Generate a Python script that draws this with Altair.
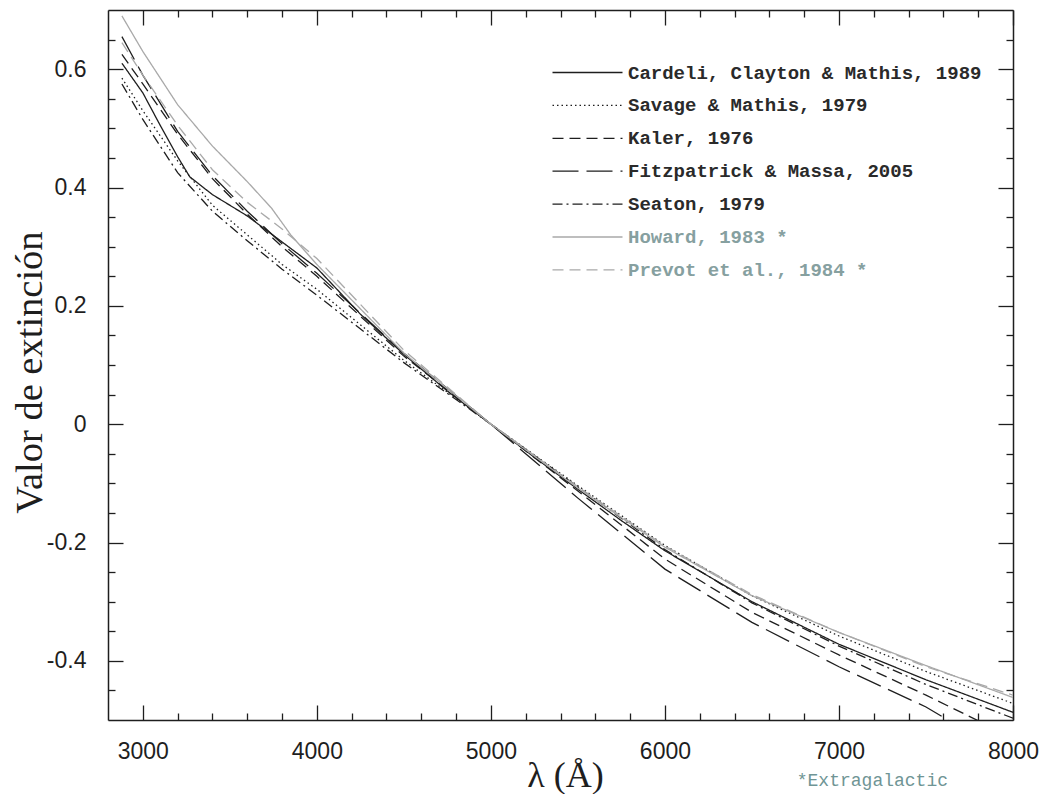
import altair as alt
import pandas as pd

# Legend entries, in drawing order
series_names = [
    "Cardeli, Clayton & Mathis, 1989",
    "Savage & Mathis, 1979",
    "Kaler, 1976",
    "Fitzpatrick & Massa, 2005",
    "Seaton, 1979",
    "Howard, 1983 *",
    "Prevot et al., 1984 *",
]
series_colors = ["#1e1e1e", "#1e1e1e", "#1e1e1e", "#1e1e1e", "#1e1e1e", "#a9a9a9", "#a9a9a9"]
series_dashes = [[1, 0], [1.5, 3], [11, 6], [26, 8], [10, 4, 2, 4], [1, 0], [11, 6]]

# Extinction curves, normalised to zero at 5000 A
cardelli_wl = [2880, 3000, 3100, 3200, 3270, 3400, 3600, 3800, 4000, 4250, 4500, 4750, 5000, 5250, 5500, 5750, 6000, 6500, 7000, 7500, 8000]
cardelli_val = [0.610, 0.560, 0.505, 0.452, 0.418, 0.388, 0.352, 0.308, 0.264, 0.186, 0.118, 0.056, 0.000, -0.056, -0.110, -0.163, -0.214, -0.300, -0.372, -0.432, -0.487]

savage_wl = [2880, 3000, 3200, 3400, 3600, 3800, 4000, 4500, 5000, 5500, 6000, 6500, 7000, 7500, 8000]
savage_val = [0.585, 0.530, 0.445, 0.370, 0.320, 0.270, 0.228, 0.108, 0.000, -0.104, -0.205, -0.290, -0.358, -0.418, -0.472]

kaler_wl = [2880, 3000, 3200, 3400, 3600, 3800, 4000, 4500, 5000, 5500, 6000, 6500, 7000, 7500, 8000]
kaler_val = [0.625, 0.575, 0.490, 0.415, 0.355, 0.300, 0.250, 0.115, 0.000, -0.113, -0.228, -0.318, -0.390, -0.458, -0.530]

fitz_wl = [2880, 3000, 3200, 3400, 3600, 3800, 4000, 4500, 5000, 5500, 6000, 6500, 7000, 7500, 8000]
fitz_val = [0.655, 0.590, 0.495, 0.420, 0.360, 0.305, 0.255, 0.120, 0.000, -0.125, -0.245, -0.335, -0.410, -0.478, -0.565]

seaton_wl = [2880, 3000, 3200, 3400, 3600, 3800, 4000, 4500, 5000, 5500, 6000, 6500, 7000, 7500, 8000]
seaton_val = [0.575, 0.515, 0.425, 0.360, 0.310, 0.262, 0.218, 0.104, 0.000, -0.106, -0.212, -0.302, -0.375, -0.440, -0.497]

howard_wl = [2880, 3000, 3200, 3400, 3600, 3740, 3850, 4000, 4500, 5000, 5500, 6000, 6500, 7000, 7500, 8000]
howard_val = [0.690, 0.630, 0.540, 0.470, 0.410, 0.365, 0.320, 0.270, 0.120, 0.000, -0.108, -0.208, -0.290, -0.352, -0.408, -0.462]

prevot_wl = [2880, 3000, 3200, 3400, 3600, 3800, 4000, 4500, 5000, 5500, 6000, 6500, 7000, 7500, 8000]
prevot_val = [0.645, 0.590, 0.505, 0.430, 0.375, 0.330, 0.280, 0.125, 0.000, -0.106, -0.206, -0.288, -0.352, -0.410, -0.458]

curves = [
    (cardelli_wl, cardelli_val),
    (savage_wl, savage_val),
    (kaler_wl, kaler_val),
    (fitz_wl, fitz_val),
    (seaton_wl, seaton_val),
    (howard_wl, howard_val),
    (prevot_wl, prevot_val),
]

# Axis ticks
x_major = [3000, 4000, 5000, 6000, 7000, 8000]
x_minor = [3200, 3400, 3600, 3800, 4200, 4400, 4600, 4800, 5200, 5400, 5600, 5800,
           6200, 6400, 6600, 6800, 7200, 7400, 7600, 7800]
y_major = [-0.4, -0.2, 0.0, 0.2, 0.4, 0.6]
y_minor = [-0.45, -0.35, -0.3, -0.25, -0.15, -0.1, -0.05, 0.05, 0.1, 0.15,
           0.25, 0.3, 0.35, 0.45, 0.5, 0.55, 0.65]

rows = []
for order, (name, (wl, val)) in enumerate(zip(series_names, curves)):
    for w, v in zip(wl, val):
        rows.append({"series": name, "order": order, "wavelength": w, "value": v})
df = pd.DataFrame(rows)

W, H = 905, 710
INK = "#1e1e1e"
xs = alt.Scale(domain=[2800, 8000], nice=False, zero=False)
ys = alt.Scale(domain=[-0.5, 0.7], nice=False, zero=False)

grey_labels = "['Howard, 1983 *', 'Prevot et al., 1984 *']"
legend = alt.Legend(
    title=None,
    orient="none",
    legendX=470,
    legendY=53,
    padding=0,
    symbolType="M-7,0H7",
    symbolSize=100,
    symbolStrokeWidth=1.3,
    labelFont="Liberation Mono",
    labelFontSize=19,
    labelFontWeight="bold",
    labelOffset=31,
    labelLimit=600,
    rowPadding=12.9,
    labelColor={"expr": "indexof(" + grey_labels + ", datum.label) >= 0 ? '#86a0a0' : '#2a2a2a'"},
)

color = alt.Color("series:N", sort=series_names,
                  scale=alt.Scale(domain=series_names, range=series_colors), legend=legend)
dash = alt.StrokeDash("series:N", sort=series_names,
                      scale=alt.Scale(domain=series_names, range=series_dashes), legend=legend)


def tick_axis(orient, values, size):
    # inward ticks: the axis is pulled into the plot by its own tick length
    return alt.Axis(orient=orient, values=values, ticks=True, tickSize=size, offset=-size,
                    tickColor=INK, tickWidth=1.3, labels=False, domain=False,
                    grid=False, title=None)


def frame_axis(orient):
    return alt.Axis(orient=orient, ticks=False, labels=False, domain=True,
                    domainColor=INK, domainWidth=1.5, grid=False, title=None)


x_main = alt.Axis(orient="bottom", values=x_major, format="d", ticks=False, tickSize=0,
                  domain=True, domainColor=INK, domainWidth=1.5, grid=False,
                  labelPadding=20, labelFontSize=23, labelFlush=False,
                  labelFont="Liberation Sans", labelColor=INK,
                  title="λ (Å)", titleFont="Liberation Serif", titleFontSize=36,
                  titleFontWeight="normal", titleColor=INK,
                  titleX=457, titleY=66, titleBaseline="alphabetic", titleAlign="center")
y_main = alt.Axis(orient="left", values=y_major, ticks=False, tickSize=0,
                  domain=True, domainColor=INK, domainWidth=1.5,
                  grid=False, labelPadding=22, labelFontSize=23, labelFlush=False,
                  labelFont="Liberation Sans", labelColor=INK,
                  labelExpr="datum.value == 0 ? '0' : (datum.value < 0 ? '-' + format(-datum.value, '.1f') : format(datum.value, '.1f'))",
                  title="Valor de extinción", titleFont="Liberation Serif", titleFontSize=38.5,
                  titleFontWeight="normal", titleColor=INK, titleAngle=270,
                  titleX=-67, titleY=362, titleBaseline="alphabetic", titleAlign="center")

lines = alt.Chart(df).mark_line(clip=True, strokeWidth=1.3).encode(
    x=alt.X("wavelength:Q", scale=xs, axis=x_main),
    y=alt.Y("value:Q", scale=ys, axis=y_main),
    color=color,
    strokeDash=dash,
    order="wavelength:Q",
)


def ghost(xaxis, yaxis):
    # invisible copy of the curves that only carries an extra axis
    return alt.Chart(df).mark_line(clip=True, opacity=0).encode(
        x=alt.X("wavelength:Q", scale=xs, axis=xaxis),
        y=alt.Y("value:Q", scale=ys, axis=yaxis),
        detail="series:N",
    )


chart = alt.layer(
    lines,
    ghost(tick_axis("bottom", x_major, 15), tick_axis("left", y_major, 15)),
    ghost(tick_axis("bottom", x_minor, 7), tick_axis("left", y_minor, 7)),
    ghost(tick_axis("top", x_major, 15), tick_axis("right", y_major, 15)),
    ghost(tick_axis("top", x_minor, 7), tick_axis("right", y_minor, 7)),
    ghost(frame_axis("top"), frame_axis("right")),
).resolve_axis(
    x="independent", y="independent"
).properties(
    width=W,
    height=H,
    title=alt.TitleParams(
        "*Extragalactic", orient="bottom", anchor="end", frame="group",
        offset=0, dy=-21, dx=-65, font="Liberation Mono", fontSize=18,
        fontWeight="normal", color="#6f9595",
    ),
    autosize=alt.AutoSizeParams(type="none"),
    padding={"left": 108, "top": 10, "right": 29, "bottom": 74},
).configure_view(
    stroke=INK, strokeWidth=1.5
).configure(background="white")

chart.save("out.html", embed_options={"renderer": "svg", "actions": False})
